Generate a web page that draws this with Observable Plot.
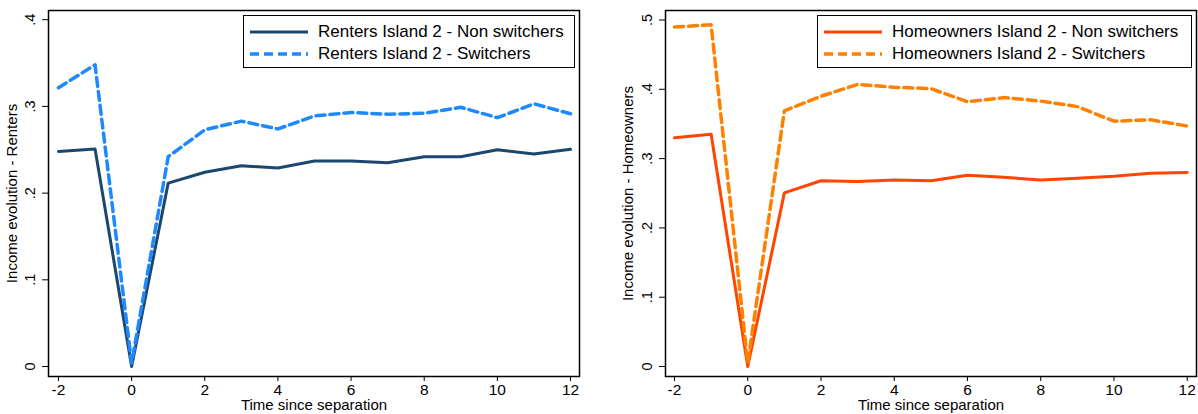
<!DOCTYPE html>
<html><head><meta charset="utf-8">
<script src="https://cdn.jsdelivr.net/npm/d3@7"></script>
<script src="https://cdn.jsdelivr.net/npm/@observablehq/plot@0.6"></script>
<style>
body{margin:0;background:#fff;}
#wrap{position:relative;width:1198px;height:414px;overflow:hidden;font-family:"Liberation Sans",Arial,sans-serif;background:#fff;}
.panel{position:absolute;top:0;}
.legend{position:absolute;background:#fff;border:1px solid #000;box-sizing:border-box;font-size:17px;color:#000;}
.legend .row{position:absolute;left:0;height:20px;white-space:nowrap;}
.legend svg{position:absolute;left:0;top:0;}
.legend span{position:absolute;top:0px;line-height:20px;}
</style>
</head><body>
<div id="wrap"></div>
<script>
const times = [-2,-1,0,1,2,3,4,5,6,7,8,9,10,11,12];
const rentersNon = [0.248,0.251,0.000,0.2115,0.224,0.2315,0.229,0.237,0.237,0.235,0.242,0.242,0.250,0.245,0.2505];
const rentersSw  = [0.3215,0.348,0.004,0.242,0.273,0.283,0.274,0.289,0.293,0.291,0.292,0.299,0.287,0.303,0.2915];
const ownersNon  = [0.330,0.335,0.000,0.2505,0.268,0.267,0.269,0.268,0.276,0.273,0.269,0.2716,0.2745,0.279,0.280];
const ownersSw   = [0.490,0.493,0.005,0.369,0.390,0.407,0.403,0.401,0.382,0.388,0.383,0.375,0.354,0.356,0.347];
const xTicks = [-2,0,2,4,6,8,10,12];
const yTicksRenters = [0,0.1,0.2,0.3,0.4];
const yTicksOwners = [0,0.1,0.2,0.3,0.4,0.5];
const labelsRenters = ["Renters Island 2 - Non switchers","Renters Island 2 - Switchers"];
const labelsOwners = ["Homeowners Island 2 - Non switchers","Homeowners Island 2 - Switchers"];
const xTitle = "Time since separation";

const fmt = d => d === 0 ? "0" : d3.format(".1f")(d).replace(/^0/, "");
const rows = arr => times.map((t, i) => ({t, v: arr[i]}));

function panel(o) {
  return Plot.plot({
    width: o.width, height: 414,
    marginTop: 10, marginBottom: 38, marginLeft: o.marginLeft, marginRight: o.marginRight,
    x: {domain: o.xDomain},
    y: {domain: o.yDomain},
    style: {fontFamily: '"Liberation Sans", Arial, sans-serif', fontSize: "15px", color: "#000", background: "#fff"},
    marks: [
      Plot.axisX(xTicks, {tickSize: 5, tickPadding: 2, fontSize: 15.5, tickFormat: d => String(d), label: null, stroke: "#000"}),
      Plot.axisY(o.yTicks, {tickSize: 6, tickFormat: () => "", label: null, stroke: "#000"}),
      Plot.text(o.yTicks, {y: d => d, text: fmt, frameAnchor: "left", textAnchor: "middle", dx: o.tickDx, rotate: -90, fontSize: 14.5}),
      Plot.text([o.ylabel], {text: d => d, frameAnchor: "left", textAnchor: "middle", dx: o.labelDx, rotate: -90, fontSize: 15}),
      Plot.text([xTitle], {text: d => d, frameAnchor: "bottom", dy: 33, fontSize: 15}),
      Plot.line(rows(o.non), {x: "t", y: "v", stroke: o.c1, strokeWidth: 3}),
      Plot.line(rows(o.sw), {x: "t", y: "v", stroke: o.c2, strokeWidth: 3.5, strokeDasharray: "9,5"}),
      Plot.frame({stroke: "#000", strokeWidth: 1.5})
    ]
  });
}

function legend(o) {
  const box = document.createElement("div");
  box.className = "legend";
  Object.assign(box.style, {left: o.left + "px", top: "15px", width: o.width + "px", height: "53px"});
  o.labels.forEach((lab, i) => {
    const row = document.createElement("div");
    row.className = "row";
    row.style.top = (6 + i * 22) + "px";
    row.style.width = "100%";
    const dash = i === 1 ? ' stroke-dasharray="9,5"' : '';
    row.innerHTML = `<svg width="70" height="20"><line x1="6" x2="64" y1="10" y2="10" stroke="${o.colors[i]}" stroke-width="${i ? 3.5 : 3}"${dash}/></svg><span style="left:${o.textLeft}px">${lab}</span>`;
    box.appendChild(row);
  });
  return box;
}

const wrap = document.getElementById("wrap");
const p1 = panel({width: 600, marginLeft: 48, marginRight: 21, xDomain: [-2.273, 12.246], yDomain: [-0.0115, 0.4106],
  yTicks: yTicksRenters, ylabel: "Income evolution - Renters", tickDx: -18, labelDx: -36,
  non: rentersNon, sw: rentersSw, c1: "#1a476f", c2: "#1e88ff"});
const d1 = document.createElement("div"); d1.className = "panel"; d1.style.left = "0px"; d1.appendChild(p1); wrap.appendChild(d1);
const p2 = panel({width: 598, marginLeft: 65, marginRight: 2, xDomain: [-2.246, 12.254], yDomain: [-0.0144, 0.5137],
  yTicks: yTicksOwners, ylabel: "Income evolution - Homeowners", tickDx: -18, labelDx: -37,
  non: ownersNon, sw: ownersSw, c1: "#ff4500", c2: "#ff8000"});
const d2 = document.createElement("div"); d2.className = "panel"; d2.style.left = "600px"; d2.appendChild(p2); wrap.appendChild(d2);
wrap.appendChild(legend({left: 243, width: 332, labels: labelsRenters, colors: ["#1a476f", "#1e88ff"], textLeft: 74}));
wrap.appendChild(legend({left: 817, width: 375, labels: labelsOwners, colors: ["#ff4500", "#ff8000"], textLeft: 74}));
</script>
</body></html>
